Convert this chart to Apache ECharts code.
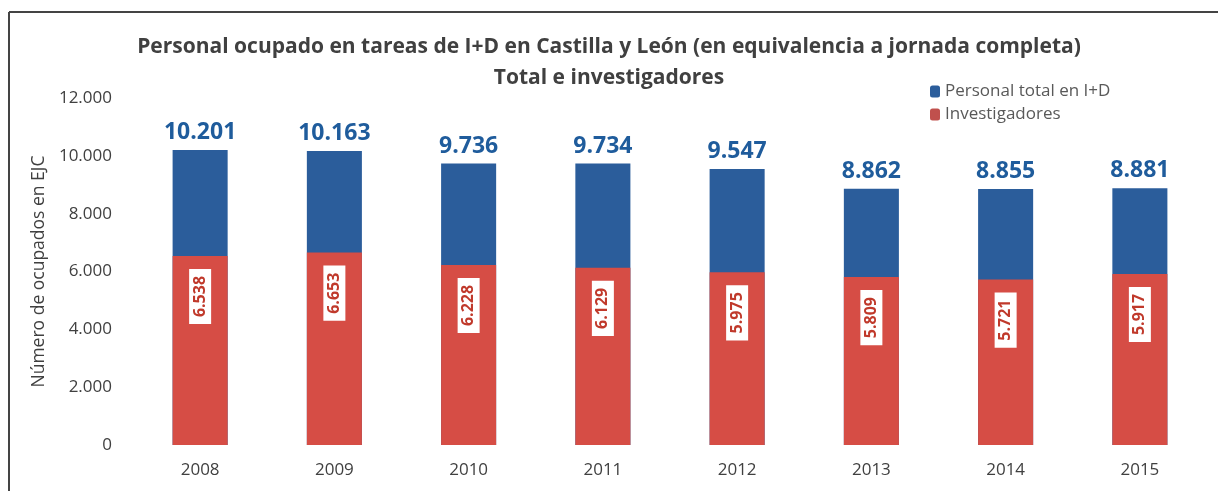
<!DOCTYPE html>
<html>
<head>
<meta charset="utf-8">
<script src="https://cdn.jsdelivr.net/npm/echarts@6/dist/echarts.min.js"></script>
<style>
  html, body { margin: 0; padding: 0; background: #fff; }
  #main { width: 1218px; height: 491px; }
</style>
</head>
<body>
<div id="main"></div>
<script>
const years = ['2008', '2009', '2010', '2011', '2012', '2013', '2014', '2015'];
const totalStaff = [10201, 10163, 9736, 9734, 9547, 8862, 8855, 8881];
const researchers = [6538, 6653, 6228, 6129, 5975, 5809, 5721, 5917];
const yTicks = [0, 2000, 4000, 6000, 8000, 10000, 12000];

// formato español: separador de miles con punto
const fmt = v => String(v).replace(/\B(?=(\d{3})+(?!\d))/g, '.');

const chart = echarts.init(document.getElementById('main'));
chart.setOption({
  textStyle: { fontFamily: 'Open Sans' },
  title: {
    text: 'Personal ocupado en tareas de I+D en Castilla y León (en equivalencia a jornada completa)\nTotal e investigadores',
    left: 'center',
    top: 27,
    textStyle: { fontSize: 21, fontWeight: 'bold', color: '#404040', lineHeight: 31 }
  },
  legend: {
    orient: 'vertical',
    left: 925,
    top: 78,
    itemWidth: 10,
    itemHeight: 12,
    itemGap: 6,
    textStyle: { fontSize: 17, color: '#595959' },
    data: [
      { name: 'Personal total en I+D', itemStyle: { color: '#2b5d9b' } },
      { name: 'Investigadores', itemStyle: { color: '#c0504d' } }
    ]
  },
  graphic: [
    { type: 'line', shape: { x1: 9, y1: 12, x2: 1218, y2: 12 }, style: { stroke: '#444', lineWidth: 2 } },
    { type: 'line', shape: { x1: 9, y1: 12, x2: 9, y2: 491 }, style: { stroke: '#444', lineWidth: 2 } }
  ],
  grid: { left: 133, right: 11, top: 98, bottom: 46 },
  xAxis: {
    type: 'category',
    data: years,
    axisLine: { show: false },
    axisTick: { show: false },
    axisLabel: { fontSize: 17, color: '#404040', margin: 17 }
  },
  yAxis: {
    type: 'value',
    min: 0,
    max: 12000,
    interval: 2000,
    name: 'Número de ocupados en EJC',
    nameLocation: 'middle',
    nameRotate: 90,
    nameGap: 80,
    nameTextStyle: { fontSize: 17.5, color: '#404040' },
    splitLine: { show: false },
    axisLabel: {
      fontSize: 17,
      color: '#404040',
      margin: 21,
      formatter: v => yTicks.includes(v) ? fmt(v) : ''
    }
  },
  series: [
    {
      name: 'Personal total en I+D',
      type: 'bar',
      data: totalStaff,
      barWidth: '41%',
      barGap: '-100%',
      itemStyle: { color: '#2b5d9b' },
      label: {
        show: true,
        position: 'top',
        distance: 6,
        fontSize: 23,
        fontWeight: 'bold',
        color: '#1f5c9c',
        formatter: p => fmt(p.value)
      }
    },
    {
      name: 'Investigadores',
      type: 'bar',
      data: researchers,
      barWidth: '41%',
      itemStyle: { color: '#d64d45' },
      label: {
        show: true,
        position: 'insideTop',
        distance: 13,
        rotate: 90,
        align: 'right',
        verticalAlign: 'middle',
        fontSize: 16,
        fontWeight: 'bold',
        color: '#c0392b',
        backgroundColor: '#fff',
        padding: [3, 7, 3, 7],
        formatter: p => fmt(p.value)
      }
    }
  ]
});
</script>
</body>
</html>
